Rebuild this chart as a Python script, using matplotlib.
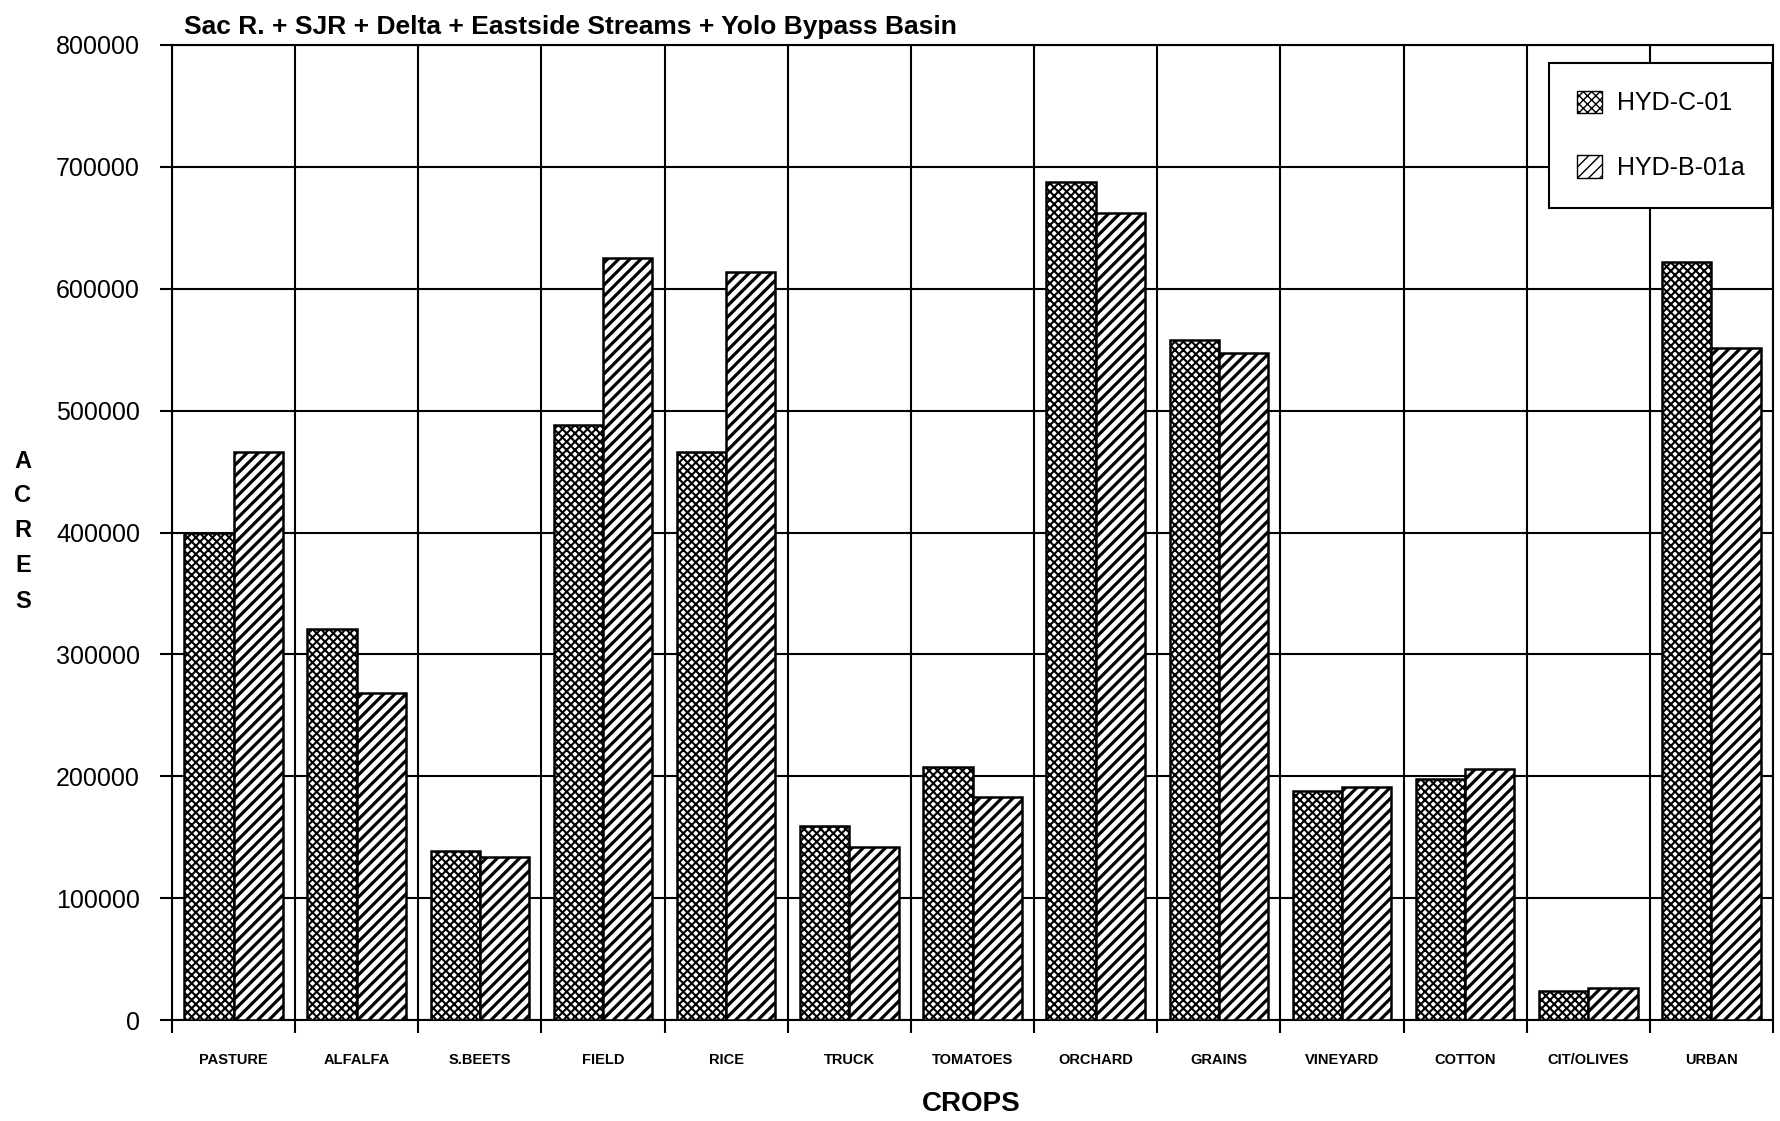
import numpy as np
import matplotlib
matplotlib.use("Agg")
import matplotlib.pyplot as plt
from matplotlib.patches import Patch

# Irrigated crop acreage by crop type, two hydrology runs
crops = ["PASTURE", "ALFALFA", "S.BEETS", "FIELD", "RICE", "TRUCK", "TOMATOES",
         "ORCHARD", "GRAINS", "VINEYARD", "COTTON", "CIT/OLIVES", "URBAN"]
hyd_c_01 = [400000, 321000, 139000, 488000, 466000, 159000, 208000,
            688000, 558000, 188000, 198000, 24000, 622000]
hyd_b_01a = [466000, 268000, 134000, 625000, 614000, 142000, 183000,
             662000, 547000, 191000, 206000, 26000, 551000]
series_names = ["HYD-C-01", "HYD-B-01a"]
y_ticks = list(range(0, 800001, 100000))

W, H = 1781, 1121
plt.rcParams["font.family"] = ["Liberation Sans", "DejaVu Sans"]
plt.rcParams["hatch.color"] = "black"

# hatch styles: dense cross grid reads as a checker of white dots, plus diagonal stripes
styles = [("xxxx", 1.5), ("///", 2.3)]

fig = plt.figure(figsize=(W / 100, H / 100), dpi=100)
ax = fig.add_axes([172 / W, 1 - 1020 / H, (1773 - 172) / W, (1020 - 45) / H])

x = np.arange(len(crops))
bw = 0.4
handles = []
for k, (vals, (hatch, hlw)) in enumerate(zip([hyd_c_01, hyd_b_01a], styles)):
    with plt.rc_context({"hatch.linewidth": hlw}):
        ax.bar(x + (k - 0.5) * bw, vals, bw, facecolor="white", edgecolor="black",
               linewidth=1.8, hatch=hatch, zorder=3)
        handles.append(Patch(facecolor="white", edgecolor="black", hatch=hatch))

ax.set_xlim(-0.5, len(crops) - 0.5)
ax.set_ylim(0, 800000)

# grid: horizontal at each y tick, vertical between crop groups
ax.set_yticks(y_ticks)
ax.set_yticklabels([str(v) for v in y_ticks], fontsize=18)
ax.set_xticks(x)
ax.set_xticklabels(crops, fontsize=10.5, fontweight="bold")
ax.set_xticks(np.arange(-0.5, len(crops), 1), minor=True)
ax.tick_params(axis="x", which="major", length=0, pad=24)
ax.tick_params(axis="x", which="minor", length=9, width=1.5, direction="out")
ax.tick_params(axis="y", which="major", length=9, width=1.5, direction="out", pad=14)
ax.grid(True, axis="y", which="major", color="black", linewidth=1.5, zorder=1)
ax.grid(True, axis="x", which="minor", color="black", linewidth=1.5, zorder=1)
for s in ax.spines.values():
    s.set_linewidth(1.5)

fig.text(184 / W, 1 - 27 / H,
         "Sac R. + SJR + Delta + Eastside Streams + Yolo Bypass Basin",
         fontsize=19, fontweight="bold", va="center", ha="left")
fig.text(971 / W, 1 - 1104 / H, "CROPS", fontsize=20, fontweight="bold",
         ha="center", va="center")
for i, ch in enumerate("ACRES"):
    fig.text(23 / W, 1 - (461 + 35 * i) / H, ch, fontsize=17, fontweight="bold",
             ha="center", va="center")

leg = ax.legend(handles, series_names, loc="upper right",
                bbox_to_anchor=(1772 / W, 1 - 63 / H),
                bbox_transform=fig.transFigure, borderaxespad=0,
                fontsize=18, fancybox=False, framealpha=1, edgecolor="black",
                handlelength=1.0, handleheight=1.0, handletextpad=0.6,
                labelspacing=1.6, borderpad=1.1)
leg.get_frame().set_linewidth(1.5)
leg.set_zorder(5)

fig.savefig("out.png", dpi=100, facecolor="white")
